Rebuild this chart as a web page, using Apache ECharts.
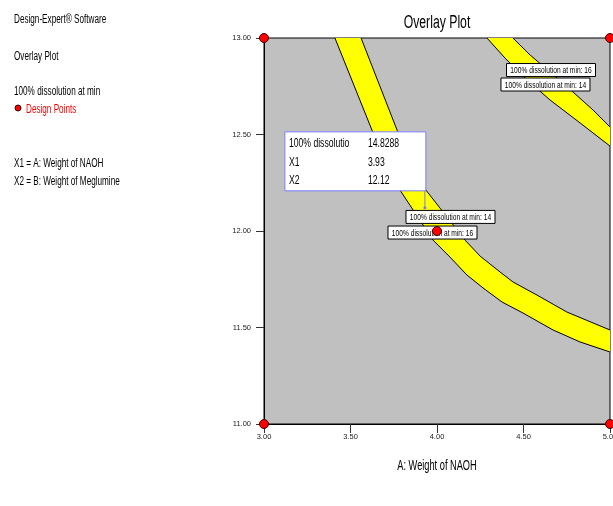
<!DOCTYPE html>
<html>
<head>
<meta charset="utf-8">
<script src="https://cdn.jsdelivr.net/npm/echarts@6/dist/echarts.min.js"></script>
<style>
html,body{margin:0;padding:0;background:#fff;}
#main{width:613px;height:506px;}
</style>
</head>
<body>
<div id="main"></div>
<script>
// axis ranges
var xRange = [3, 5];
var yRange = [11, 13];

// design points (A, B)
var designPoints = [[3, 11], [3, 13], [5, 11], [5, 13], [4, 12]];

// contour lines
var main16 = [[3.410, 13.000], [3.624, 12.523], [3.786, 12.212], [3.977, 11.953], [4.075, 11.865], [4.173, 11.772],
	[4.266, 11.705], [4.376, 11.632], [4.497, 11.575], [4.671, 11.487], [4.827, 11.425], [5.000, 11.373]];
var main14 = [[3.561, 13.000], [3.769, 12.523], [3.936, 12.212], [4.162, 11.953], [4.249, 11.870], [4.364, 11.788],
	[4.439, 11.736], [4.578, 11.668], [4.751, 11.580], [5.000, 11.487]];
var top14 = [[4.289, 13.000], [4.393, 12.896], [4.509, 12.793], [4.653, 12.679], [4.827, 12.560], [5.000, 12.440]];
var top16 = [[4.439, 13.000], [4.538, 12.912], [4.653, 12.824], [4.786, 12.720], [4.902, 12.627], [5.000, 12.539]];

// contour flags
var flagPos = [[4.078, 12.073], [3.974, 11.992], [4.659, 12.834], [4.627, 12.759]];
var flagLevel = [14, 16, 16, 14];

// probe box
var probe = [3.93, 12.12];
var probeValue = 14.8288;

var bands = [
	{lo: main16, hi: main14},
	{lo: top14, hi: top16}
];

var FONT = '"Liberation Sans", Arial, sans-serif';

function txt(x, y, s, size, sx, color, align) {
	return {
		type: 'text', x: x, y: y, scaleX: sx, z: 10,
		style: {text: s, font: size + 'px ' + FONT, fill: color || '#000',
			textAlign: align || 'left', textVerticalAlign: 'middle'}
	};
}

var myChart = echarts.init(document.getElementById('main'));

var option = {
	animation: false,
	backgroundColor: '#fff',
	grid: {
		left: 264, right: 3, top: 38, bottom: 82,
		containLabel: false, outerBoundsMode: 'none',
		show: true, backgroundColor: '#c0c0c0', borderColor: '#000', borderWidth: 1
	},
	xAxis: {
		type: 'value', min: xRange[0], max: xRange[1], interval: 0.5,
		axisLine: {lineStyle: {color: '#000', width: 1}},
		axisTick: {length: 9, lineStyle: {color: '#333'}},
		splitLine: {show: false},
		axisLabel: {margin: 9, fontSize: 7.5, fontFamily: FONT, color: '#222',
			formatter: function(v) { return v.toFixed(2); }}
	},
	yAxis: {
		type: 'value', min: yRange[0], max: yRange[1], interval: 0.5,
		axisLine: {lineStyle: {color: '#000', width: 1}},
		axisTick: {length: 8, lineStyle: {color: '#333'}},
		splitLine: {show: false},
		axisLabel: {margin: 13, fontSize: 7.5, fontFamily: FONT, color: '#222',
			formatter: function(v) { return v.toFixed(2); }}
	},
	graphic: [
		txt(14, 20, 'Design-Expert® Software', 12, 0.68),
		txt(14, 57, 'Overlay Plot', 12, 0.68),
		txt(14, 92, '100% dissolution at min', 12, 0.68),
		{type: 'circle', shape: {cx: 18, cy: 108, r: 3}, style: {fill: '#ff0000', stroke: '#400000', lineWidth: 1}},
		txt(26, 110, 'Design Points', 12, 0.68, '#ff0000'),
		txt(14, 164, 'X1 = A: Weight of NAOH', 12, 0.68),
		txt(14, 182, 'X2 = B: Weight of Meglumine', 12, 0.68),
		txt(437, 23, 'Overlay Plot', 18, 0.68, '#000', 'center'),
		txt(437, 466, 'A: Weight of NAOH', 14, 0.66, '#000', 'center')
	],
	series: [
		{
			// yellow overlay bands
			type: 'custom',
			z: 2,
			silent: true,
			data: bands.map(function(b) { return b.lo[0]; }),
			renderItem: function(params, api) {
				var b = bands[params.dataIndex];
				var a = b.lo.map(function(p) { return api.coord(p); });
				var c = b.hi.map(function(p) { return api.coord(p); });
				return {
					type: 'group',
					children: [
						{type: 'polygon', shape: {points: a.concat(c.slice().reverse())}, style: {fill: '#ffff00'}},
						{type: 'polyline', shape: {points: a}, style: {stroke: '#000', lineWidth: 1, fill: null}},
						{type: 'polyline', shape: {points: c}, style: {stroke: '#000', lineWidth: 1, fill: null}}
					]
				};
			}
		},
		{
			// contour flags
			type: 'custom',
			z: 3,
			silent: true,
			data: flagPos,
			renderItem: function(params, api) {
				var p = api.coord(flagPos[params.dataIndex]);
				var w = 89, h = 13;
				return {
					type: 'group',
					children: [
						{type: 'rect', shape: {x: p[0] - w / 2, y: p[1] - h / 2, width: w, height: h},
							style: {fill: '#fff', stroke: '#000', lineWidth: 1}},
						{type: 'text', x: p[0], y: p[1] + 0.5, scaleX: 0.7,
							style: {text: '100% dissolution at min: ' + flagLevel[params.dataIndex],
								font: '9.5px ' + FONT, fill: '#000', textAlign: 'center', textVerticalAlign: 'middle'}}
					]
				};
			}
		},
		{
			// probe readout
			type: 'custom',
			z: 4,
			silent: true,
			data: [probe],
			renderItem: function(params, api) {
				var p = api.coord(probe);
				var bx = p[0] - 140, by = p[1] - 76;
				var rows = [['100% dissolutio', String(probeValue)], ['X1', probe[0].toFixed(2)], ['X2', probe[1].toFixed(2)]];
				var kids = [
					{type: 'line', shape: {x1: p[0], y1: p[1] - 17, x2: p[0], y2: p[1]}, style: {stroke: '#7a7aff', lineWidth: 1}},
					{type: 'circle', shape: {cx: p[0], cy: p[1], r: 1.5}, style: {fill: '#7a7aff'}},
					{type: 'rect', shape: {x: bx, y: by, width: 141, height: 59}, style: {fill: '#fff', stroke: '#7a7aff', lineWidth: 1}}
				];
				rows.forEach(function(r, i) {
					var yy = by + 12 + i * 18.5;
					kids.push({type: 'text', x: bx + 4, y: yy, scaleX: 0.72,
						style: {text: r[0], font: '12px ' + FONT, fill: '#000', textVerticalAlign: 'middle'}});
					kids.push({type: 'text', x: bx + 83, y: yy, scaleX: 0.72,
						style: {text: r[1], font: '12px ' + FONT, fill: '#000', textVerticalAlign: 'middle'}});
				});
				return {type: 'group', children: kids};
			}
		},
		{
			type: 'scatter',
			z: 5,
			clip: false,
			data: designPoints,
			symbolSize: 9,
			itemStyle: {color: '#ff0000', borderColor: '#400000', borderWidth: 1, opacity: 1}
		}
	]
};
myChart.setOption(option);
</script>
</body>
</html>
